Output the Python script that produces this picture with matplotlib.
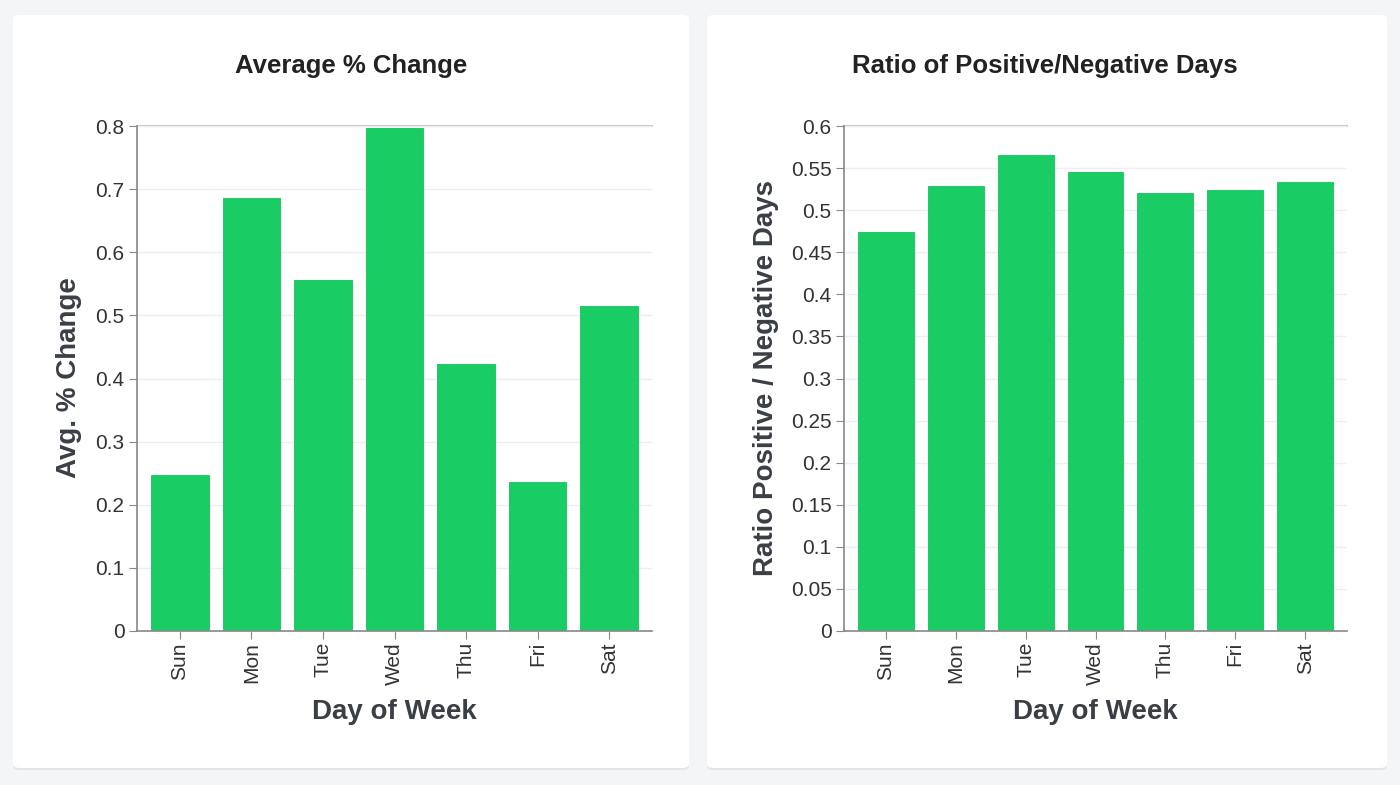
import numpy as np
import matplotlib.pyplot as plt
from matplotlib.patches import FancyBboxPatch

plt.rcParams['font.family'] = ['Liberation Sans', 'DejaVu Sans']

days = ["Sun", "Mon", "Tue", "Wed", "Thu", "Fri", "Sat"]
avg_change = [0.247, 0.686, 0.556, 0.797, 0.423, 0.236, 0.515]
pos_neg_ratio = [0.474, 0.529, 0.566, 0.545, 0.520, 0.524, 0.533]

GREEN = "#19cc63"
TEXT = "#333333"
AXIS = "#888888"

W, H = 1400, 785
fig = plt.figure(figsize=(14, 7.85), dpi=100)
fig.patch.set_facecolor("#f4f5f7")

def px(x, y):
    return x / W, 1 - y / H

# white cards behind the charts
for x0, x1 in [(13, 689), (707, 1387)]:
    for off, col, z in [(2, "#e4e5e8", -20), (0, "white", -10)]:
        card = FancyBboxPatch((x0 / W, 1 - (768 + off) / H), (x1 - x0) / W, 753 / H,
                              boxstyle="round,pad=0,rounding_size=0.005",
                              transform=fig.transFigure, facecolor=col,
                              edgecolor="none", zorder=z)
        fig.patches.append(card)


def draw(rect, values, ymax, step, title, ylabel, title_x, ylabel_x, fmt):
    ax = fig.add_axes(rect)
    ax.set_facecolor("none")
    x = np.arange(len(days))
    ax.bar(x, values, width=0.8, color=GREEN, edgecolor="#12c45a", linewidth=0.6, zorder=2)
    ax.set_xlim(-0.6, 6.6)
    ax.set_ylim(0, ymax)
    ticks = np.arange(0, ymax + step / 2, step)
    ax.set_yticks(ticks)
    ax.set_yticklabels([fmt(t) for t in ticks])
    ax.set_xticks(x)
    ax.set_xticklabels(days, rotation=90)
    ax.grid(axis="y", color="#eeeeee", linewidth=1, zorder=0)
    ax.axhline(ymax, color="#cccccc", linewidth=1.5, zorder=1, clip_on=False)
    for s in ["top", "right"]:
        ax.spines[s].set_visible(False)
    for s in ["left", "bottom"]:
        ax.spines[s].set_color(AXIS)
        ax.spines[s].set_linewidth(1.2)
    ax.tick_params(axis="y", length=6, color=AXIS, labelsize=15, labelcolor=TEXT, pad=3)
    ax.tick_params(axis="x", length=6, color=AXIS, labelsize=15, labelcolor=TEXT, pad=2)
    cx = (rect[0] + rect[2] / 2) * W
    fig.text(*px(cx, 712), "Day of Week", ha="center", va="center", fontsize=20,
             fontweight="bold", color="#3a3e45")
    fig.text(*px(title_x, 66), title, ha="center", va="center", fontsize=18.5,
             fontweight="bold", color="#222222")
    fig.text(*px(ylabel_x, 378), ylabel, ha="center", va="center", rotation=90,
             fontsize=20, fontweight="bold", color="#3a3e45")
    return ax


def fmt_left(t):
    return "0" if t == 0 else f"{t:.1f}"


def fmt_right(t):
    if t == 0:
        return "0"
    return f"{t:.2f}".rstrip("0")


draw([137 / W, 1 - 631 / H, 515 / W, 505 / H], avg_change, 0.8, 0.1,
     "Average % Change", "Avg. % Change", 351, 69, fmt_left)
draw([844 / W, 1 - 631 / H, 503 / W, 505 / H], pos_neg_ratio, 0.6, 0.05,
     "Ratio of Positive/Negative Days", "Ratio Positive / Negative Days", 1045, 766, fmt_right)

fig.savefig("out.png", dpi=100, facecolor=fig.get_facecolor())
